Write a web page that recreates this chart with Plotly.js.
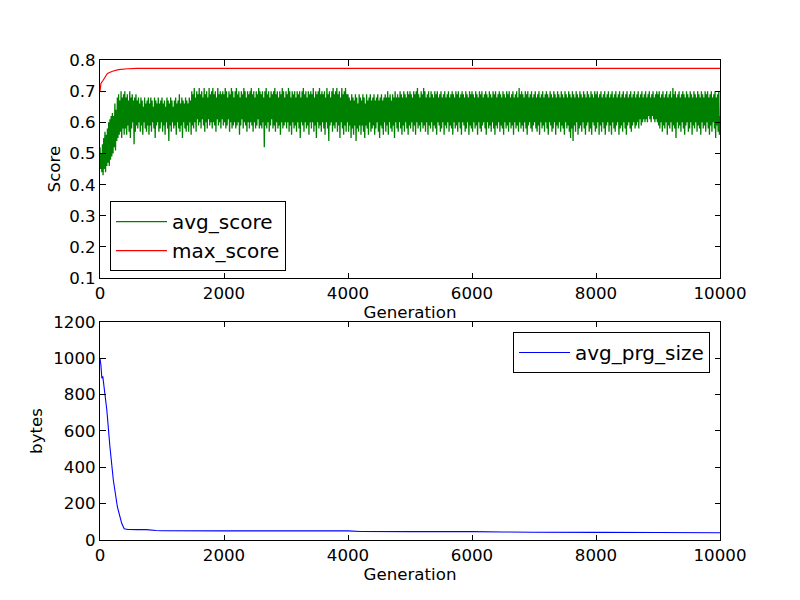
<!DOCTYPE html>
<html>
<head>
<meta charset="utf-8">
<script src="https://cdn.plot.ly/plotly-3.0.1.min.js"></script>
<style>html,body{margin:0;padding:0;background:#fff}#chart{width:800px;height:600px}</style>
</head>
<body>
<div id="chart"></div>
<script>
// ---- data ----
// avg_score sampled every 10 generations (0..10000), one row = 200 generations
const scoreGenStep = 10;
const avgScore = [
0.52,0.45,0.50,0.44,0.53,0.43,0.55,0.45,0.57,0.44,0.56,0.46,0.58,0.47,0.60,0.46,0.61,0.48,0.62,0.49,
0.63,0.50,0.62,0.52,0.66,0.51,0.64,0.54,0.68,0.55,0.69,0.56,0.67,0.57,0.70,0.55,0.68,0.58,0.69,0.56,
0.70,0.58,0.68,0.56,0.69,0.59,0.67,0.57,0.70,0.55,0.68,0.58,0.69,0.60,0.67,0.53,0.68,0.57,0.69,0.59,
0.67,0.58,0.68,0.60,0.66,0.57,0.68,0.59,0.67,0.56,0.65,0.60,0.68,0.58,0.66,0.57,0.67,0.59,0.68,0.56,
0.66,0.59,0.68,0.57,0.67,0.60,0.65,0.58,0.68,0.55,0.67,0.59,0.66,0.60,0.68,0.57,0.66,0.58,0.67,0.60,
0.68,0.57,0.66,0.59,0.67,0.56,0.65,0.60,0.68,0.58,0.67,0.54,0.66,0.59,0.68,0.57,0.67,0.60,0.65,0.58,
0.67,0.59,0.68,0.56,0.66,0.60,0.67,0.58,0.69,0.57,0.66,0.59,0.68,0.55,0.67,0.60,0.66,0.58,0.68,0.57,
0.67,0.59,0.66,0.57,0.68,0.60,0.67,0.56,0.70,0.59,0.69,0.58,0.71,0.60,0.68,0.57,0.70,0.61,0.69,0.59,
0.71,0.60,0.69,0.58,0.70,0.61,0.68,0.59,0.71,0.57,0.69,0.60,0.70,0.58,0.68,0.61,0.71,0.59,0.69,0.60,
0.70,0.58,0.71,0.60,0.69,0.59,0.70,0.57,0.68,0.61,0.71,0.59,0.69,0.60,0.70,0.58,0.69,0.61,0.70,0.59,
0.69,0.60,0.71,0.58,0.70,0.59,0.68,0.61,0.70,0.57,0.69,0.60,0.71,0.58,0.70,0.59,0.68,0.60,0.70,0.58,
0.71,0.59,0.69,0.60,0.70,0.56,0.68,0.59,0.70,0.61,0.69,0.58,0.71,0.60,0.70,0.59,0.68,0.57,0.70,0.60,
0.69,0.58,0.70,0.60,0.71,0.59,0.69,0.57,0.70,0.60,0.68,0.58,0.70,0.59,0.69,0.61,0.71,0.58,0.70,0.59,
0.69,0.58,0.70,0.60,0.68,0.52,0.70,0.59,0.71,0.58,0.69,0.60,0.70,0.57,0.68,0.59,0.70,0.61,0.69,0.58,
0.70,0.59,0.71,0.57,0.69,0.60,0.70,0.58,0.68,0.59,0.70,0.56,0.69,0.60,0.71,0.58,0.70,0.59,0.68,0.60,
0.70,0.58,0.69,0.60,0.71,0.57,0.70,0.59,0.68,0.56,0.70,0.60,0.69,0.58,0.70,0.59,0.68,0.57,0.70,0.60,
0.69,0.58,0.70,0.55,0.68,0.60,0.70,0.59,0.71,0.57,0.69,0.60,0.70,0.58,0.68,0.59,0.70,0.56,0.69,0.60,
0.70,0.58,0.69,0.60,0.71,0.57,0.68,0.59,0.70,0.55,0.69,0.60,0.70,0.58,0.71,0.59,0.69,0.57,0.70,0.60,
0.69,0.58,0.70,0.56,0.68,0.60,0.71,0.58,0.69,0.54,0.70,0.59,0.68,0.60,0.70,0.57,0.71,0.59,0.69,0.58,
0.70,0.60,0.71,0.57,0.69,0.59,0.70,0.55,0.68,0.60,0.71,0.58,0.69,0.56,0.70,0.59,0.71,0.57,0.69,0.60,
0.69,0.57,0.68,0.59,0.67,0.55,0.69,0.58,0.68,0.56,0.67,0.59,0.69,0.54,0.68,0.58,0.66,0.57,0.69,0.59,
0.68,0.56,0.67,0.59,0.69,0.57,0.68,0.55,0.66,0.59,0.69,0.58,0.67,0.56,0.68,0.60,0.69,0.57,0.67,0.58,
0.68,0.59,0.69,0.56,0.67,0.58,0.68,0.60,0.69,0.57,0.67,0.55,0.68,0.59,0.69,0.58,0.67,0.56,0.68,0.60,
0.69,0.57,0.68,0.59,0.70,0.56,0.68,0.60,0.69,0.58,0.67,0.57,0.69,0.59,0.68,0.55,0.70,0.60,0.68,0.58,
0.69,0.57,0.68,0.60,0.70,0.58,0.69,0.56,0.68,0.59,0.70,0.57,0.69,0.60,0.68,0.58,0.70,0.56,0.69,0.59,
0.70,0.58,0.69,0.60,0.68,0.57,0.70,0.59,0.69,0.56,0.70,0.60,0.71,0.58,0.69,0.59,0.68,0.57,0.70,0.60,
0.69,0.58,0.71,0.59,0.70,0.57,0.68,0.60,0.69,0.56,0.70,0.59,0.68,0.58,0.70,0.60,0.69,0.57,0.68,0.59,
0.70,0.58,0.69,0.56,0.70,0.60,0.68,0.59,0.69,0.57,0.70,0.58,0.68,0.60,0.69,0.56,0.70,0.59,0.68,0.58,
0.69,0.60,0.70,0.57,0.68,0.59,0.69,0.58,0.70,0.56,0.69,0.60,0.68,0.58,0.70,0.59,0.69,0.57,0.70,0.60,
0.68,0.58,0.69,0.56,0.70,0.60,0.69,0.59,0.68,0.57,0.70,0.58,0.69,0.60,0.68,0.56,0.70,0.59,0.69,0.58,
0.70,0.57,0.69,0.60,0.68,0.58,0.70,0.59,0.69,0.56,0.68,0.60,0.70,0.58,0.69,0.57,0.70,0.59,0.68,0.60,
0.69,0.58,0.70,0.56,0.69,0.60,0.68,0.58,0.70,0.59,0.69,0.57,0.68,0.60,0.70,0.58,0.69,0.56,0.70,0.59,
0.68,0.58,0.69,0.60,0.70,0.57,0.69,0.59,0.68,0.58,0.70,0.56,0.69,0.60,0.68,0.58,0.70,0.59,0.69,0.57,
0.70,0.60,0.68,0.58,0.69,0.59,0.70,0.56,0.68,0.60,0.69,0.58,0.70,0.59,0.68,0.57,0.71,0.60,0.69,0.58,
0.70,0.59,0.69,0.57,0.68,0.60,0.70,0.58,0.69,0.56,0.70,0.59,0.68,0.60,0.69,0.58,0.70,0.57,0.68,0.59,
0.69,0.60,0.70,0.58,0.68,0.57,0.69,0.59,0.70,0.56,0.68,0.60,0.69,0.58,0.70,0.59,0.68,0.57,0.69,0.60,
0.70,0.58,0.69,0.56,0.68,0.60,0.70,0.59,0.69,0.57,0.68,0.58,0.70,0.60,0.69,0.56,0.68,0.59,0.70,0.58,
0.69,0.60,0.68,0.57,0.70,0.59,0.69,0.58,0.68,0.56,0.70,0.60,0.69,0.58,0.68,0.59,0.70,0.57,0.69,0.55,
0.68,0.58,0.70,0.54,0.69,0.59,0.68,0.57,0.70,0.60,0.69,0.56,0.68,0.58,0.70,0.59,0.69,0.57,0.68,0.60,
0.70,0.58,0.69,0.56,0.68,0.59,0.70,0.60,0.69,0.57,0.68,0.58,0.70,0.56,0.69,0.60,0.68,0.59,0.70,0.57,
0.69,0.58,0.70,0.60,0.68,0.56,0.69,0.59,0.70,0.57,0.68,0.60,0.69,0.58,0.70,0.56,0.68,0.59,0.69,0.60,
0.70,0.57,0.68,0.59,0.69,0.56,0.70,0.60,0.68,0.58,0.69,0.57,0.70,0.59,0.68,0.60,0.69,0.56,0.70,0.58,
0.68,0.59,0.69,0.57,0.70,0.60,0.68,0.58,0.69,0.56,0.70,0.59,0.68,0.60,0.69,0.58,0.70,0.57,0.68,0.59,
0.69,0.60,0.70,0.58,0.68,0.59,0.69,0.60,0.70,0.58,0.68,0.61,0.69,0.59,0.70,0.60,0.68,0.61,0.69,0.60,
0.70,0.61,0.68,0.60,0.69,0.62,0.70,0.61,0.68,0.60,0.69,0.62,0.70,0.61,0.68,0.60,0.69,0.61,0.70,0.60,
0.69,0.59,0.70,0.58,0.68,0.60,0.69,0.57,0.70,0.59,0.68,0.58,0.69,0.60,0.70,0.56,0.68,0.59,0.69,0.58,
0.70,0.60,0.68,0.57,0.71,0.59,0.69,0.58,0.70,0.55,0.68,0.60,0.69,0.58,0.70,0.59,0.68,0.57,0.69,0.60,
0.70,0.58,0.69,0.56,0.68,0.59,0.70,0.60,0.69,0.57,0.68,0.58,0.70,0.60,0.69,0.56,0.68,0.59,0.70,0.58,
0.69,0.60,0.68,0.57,0.70,0.59,0.69,0.58,0.68,0.56,0.70,0.60,0.69,0.58,0.68,0.59,0.70,0.57,0.69,0.60,
0.70,0.58,0.68,0.56,0.69,0.59,0.70,0.57,0.68,0.60,0.69,0.58,0.70,0.55,0.68,0.59,0.69,0.57,0.70,0.56,
0.62
];

const maxGen   = [0, 15, 50, 120, 200, 300, 450, 600, 10000];
const maxScore = [0.70, 0.725, 0.735, 0.757, 0.764, 0.769, 0.772, 0.773, 0.773];

const prgGen  = [0, 15, 30, 45, 110, 160, 215, 280, 350, 390, 450, 600, 750, 900, 1000, 2000, 3000, 4000, 4200, 5000, 6000, 6500, 7000, 8000, 9000, 10000];
const prgSize = [1000, 960, 890, 900, 715, 513, 330, 183, 92, 62, 58, 57, 57, 52, 51, 50, 50, 50, 47, 46, 46, 44, 43, 42, 41, 40];

const xTicks = [0, 2000, 4000, 6000, 8000, 10000];
const xTickText = ['0', '2000', '4000', '6000', '8000', '10000'];
const scoreTicks = [0.1, 0.2, 0.3, 0.4, 0.5, 0.6, 0.7, 0.8];
const bytesTicks = [0, 200, 400, 600, 800, 1000, 1200];

// ---- chart ----
const scoreGen = avgScore.map((_, i) => i * scoreGenStep);
const FONT = 'DejaVu Sans';
const FS = 16.67;

const traces = [
  {x: scoreGen, y: avgScore, name: 'avg_score', type: 'scatter', mode: 'lines',
   line: {color: '#008000', width: 1.3, simplify: false}, xaxis: 'x', yaxis: 'y', legend: 'legend'},
  {x: maxGen, y: maxScore, name: 'max_score', type: 'scatter', mode: 'lines',
   line: {color: '#ff0000', width: 1.2, simplify: false}, xaxis: 'x', yaxis: 'y', legend: 'legend'},
  {x: prgGen, y: prgSize, name: 'avg_prg_size', type: 'scatter', mode: 'lines',
   line: {color: '#0000ff', width: 1.1, simplify: false}, xaxis: 'x2', yaxis: 'y2', legend: 'legend2'}
];

const axBase = {
  showline: true, linecolor: '#000', linewidth: 1, mirror: 'ticks',
  ticks: 'inside', ticklen: 5.5, tickcolor: '#000', tickwidth: 1,
  showgrid: false, zeroline: false,
  tickfont: {family: FONT, size: FS, color: '#000'}
};

const legendBase = {
  bgcolor: '#fff', bordercolor: '#000', borderwidth: 1, itemwidth: 51,
  font: {family: FONT, size: 20, color: '#000'}
};

const layout = {
  width: 800, height: 600,
  paper_bgcolor: '#fff', plot_bgcolor: '#fff',
  margin: {l: 100, r: 80, t: 60, b: 60},
  font: {family: FONT, color: '#000'},
  showlegend: true,
  xaxis: Object.assign({}, axBase, {
    domain: [0, 1], anchor: 'y', range: [0, 10000], tickvals: xTicks, ticktext: xTickText,
    title: {text: 'Generation', font: {family: FONT, size: FS}, standoff: 0}
  }),
  yaxis: Object.assign({}, axBase, {
    domain: [0.5455, 1], anchor: 'x', range: [0.1, 0.8], tickvals: scoreTicks, tickformat: '.1f',
    title: {text: 'Score', font: {family: FONT, size: FS}, standoff: 4}
  }),
  xaxis2: Object.assign({}, axBase, {
    domain: [0, 1], anchor: 'y2', range: [0, 10000], tickvals: xTicks, ticktext: xTickText,
    title: {text: 'Generation', font: {family: FONT, size: FS}, standoff: 0}
  }),
  yaxis2: Object.assign({}, axBase, {
    domain: [0, 0.4545], anchor: 'x2', range: [0, 1200], tickvals: bytesTicks,
    title: {text: 'bytes', font: {family: FONT, size: FS}, standoff: 6}
  }),
  legend: Object.assign({}, legendBase, {x: 0.0161, xanchor: 'left', y: 0.706, yanchor: 'top'}),
  legend2: Object.assign({}, legendBase, {x: 0.9839, xanchor: 'right', y: 0.4333, yanchor: 'top'})
};

Plotly.newPlot('chart', traces, layout, {displayModeBar: false, staticPlot: true});
</script>
</body>
</html>
